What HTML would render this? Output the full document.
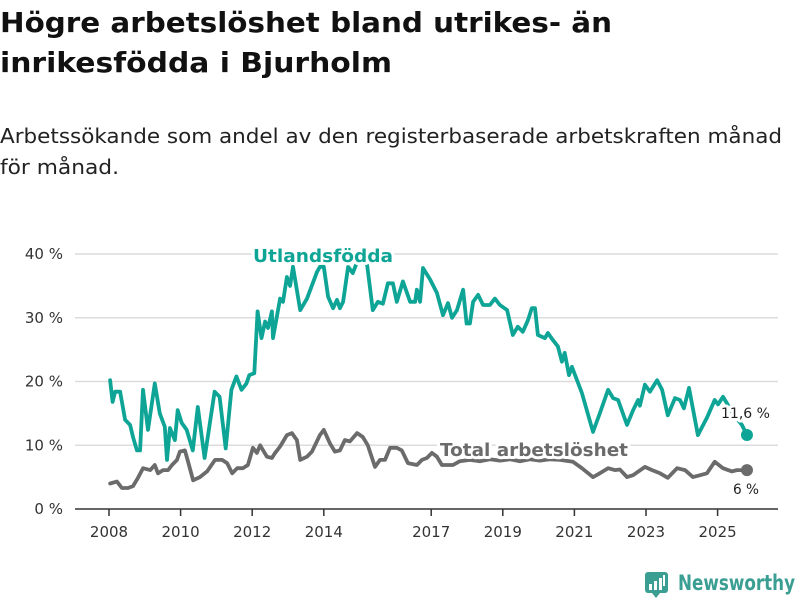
<!DOCTYPE html>
<html><head><meta charset="utf-8"><style>
html,body{margin:0;padding:0;background:#fff;}
svg{display:block;font-family:"DejaVu Sans","Liberation Sans",sans-serif;}
</style></head><body>
<svg id="chart" width="800" height="600" viewBox="0 0 800 600">
<text x="0" y="32" font-size="28" font-weight="bold" fill="#111" textLength="612" lengthAdjust="spacingAndGlyphs">Högre arbetslöshet bland utrikes- än</text>
<text x="0" y="72" font-size="28" font-weight="bold" fill="#111" textLength="392" lengthAdjust="spacingAndGlyphs">inrikesfödda i Bjurholm</text>
<text x="0" y="143" font-size="20" fill="#222" textLength="782" lengthAdjust="spacingAndGlyphs">Arbetssökande som andel av den registerbaserade arbetskraften månad</text>
<text x="0" y="174" font-size="20" fill="#222" textLength="119" lengthAdjust="spacingAndGlyphs">för månad.</text>
<g id="grid"></g><g id="axes"></g><g id="series"></g><g id="labels"></g>
<g>
<rect x="645" y="572" width="23" height="21" rx="3" fill="#3a9e92"/>
<path d="M652 593 L656 598 L660 593 Z" fill="#3a9e92"/>
<rect x="649" y="584" width="3" height="6" fill="#fff"/><rect x="654" y="581" width="3" height="9" fill="#fff"/><rect x="659" y="578" width="3" height="12" fill="#fff"/><rect x="663" y="575" width="2" height="11" fill="#fff"/>
<text x="678" y="590" font-size="21" font-weight="bold" fill="#3a9e92" textLength="117" lengthAdjust="spacingAndGlyphs">Newsworthy</text>
</g>
</svg>
<script>
const yTicks=[0,10,20,30,40];
const yTickLabels=["0 %","10 %","20 %","30 %","40 %"];
const xTicks=[2008,2010,2012,2014,2017,2019,2021,2023,2025];
const utlDates=[2008.03,2008.10,2008.17,2008.31,2008.45,2008.59,2008.67,2008.78,2008.87,2008.95,2009.09,2009.28,2009.42,2009.56,2009.62,2009.70,2009.84,2009.92,2010.03,2010.17,2010.34,2010.48,2010.67,2010.95,2011.09,2011.26,2011.42,2011.56,2011.70,2011.84,2011.92,2012.06,2012.15,2012.26,2012.36,2012.44,2012.55,2012.58,2012.78,2012.86,2012.97,2013.06,2013.14,2013.34,2013.53,2013.81,2013.89,2014.00,2014.12,2014.26,2014.37,2014.45,2014.54,2014.68,2014.81,2014.90,2015.01,2015.12,2015.21,2015.37,2015.51,2015.65,2015.79,2015.93,2016.04,2016.21,2016.41,2016.55,2016.60,2016.69,2016.77,2016.97,2017.16,2017.33,2017.47,2017.58,2017.72,2017.89,2017.99,2018.08,2018.17,2018.31,2018.45,2018.64,2018.78,2018.92,2019.12,2019.28,2019.42,2019.56,2019.70,2019.81,2019.90,2019.98,2020.18,2020.26,2020.40,2020.54,2020.65,2020.73,2020.85,2020.93,2021.21,2021.52,2021.71,2021.94,2022.08,2022.22,2022.47,2022.64,2022.78,2022.83,2022.97,2023.11,2023.31,2023.45,2023.61,2023.81,2023.95,2024.06,2024.20,2024.45,2024.70,2024.92,2025.01,2025.15,2025.26,2025.43,2025.68,2025.82];
const utlValues=[20.2,16.8,18.4,18.4,14,13.2,11.3,9.2,9.2,18.7,12.4,19.7,15,12.9,7.7,12.7,10.8,15.5,13.5,12.4,9.2,16,8,18.4,17.6,9.5,18.7,20.8,18.7,19.7,21,21.3,31,26.8,29.4,28.4,31,26.8,33,32.5,36.4,35,38,31.2,33,37.2,38,38,33.3,31.5,32.8,31.5,32.5,38,37,38.3,39.6,39.6,38.3,31.2,32.5,32.2,35.4,35.4,32.5,35.7,32.5,32.5,34.4,32.5,37.8,36,33.9,30.4,32.3,30,31.2,34.4,29.1,29.1,32.5,33.6,32,32,33,32,31.2,27.3,28.6,27.8,29.6,31.5,31.5,27.3,26.8,27.6,26.5,25.5,23.1,24.5,21,22.3,18.2,12.1,15,18.7,17.4,17.1,13.2,15.5,17.1,16.2,19.5,18.4,20.2,18.7,14.7,17.4,17.1,15.8,19,11.6,14.3,17.1,16.4,17.6,16.6,15,13.2,11.6];
const totDates=[2008.03,2008.22,2008.36,2008.53,2008.67,2008.81,2008.95,2009.15,2009.28,2009.37,2009.51,2009.65,2009.76,2009.90,2009.98,2010.12,2010.21,2010.35,2010.54,2010.74,2010.96,2011.16,2011.30,2011.44,2011.58,2011.74,2011.88,2012.02,2012.13,2012.22,2012.41,2012.55,2012.64,2012.78,2012.97,2013.11,2013.25,2013.34,2013.53,2013.67,2013.89,2014.00,2014.17,2014.31,2014.45,2014.59,2014.73,2014.93,2015.09,2015.23,2015.43,2015.57,2015.71,2015.85,2016.04,2016.18,2016.35,2016.60,2016.74,2016.88,2017.02,2017.16,2017.30,2017.44,2017.61,2017.80,2018.08,2018.36,2018.64,2018.92,2019.20,2019.48,2019.76,2020.04,2020.32,2020.60,2020.96,2021.21,2021.52,2021.71,2021.94,2022.13,2022.27,2022.47,2022.64,2022.97,2023.17,2023.39,2023.61,2023.87,2024.09,2024.31,2024.51,2024.70,2024.92,2025.15,2025.40,2025.54,2025.82];
const totValues=[4,4.3,3.3,3.3,3.6,4.9,6.4,6.1,6.9,5.6,6.1,6.1,6.9,7.7,9,9.2,7.4,4.5,5,5.9,7.7,7.7,7.2,5.6,6.4,6.4,6.9,9.6,8.8,10,8.2,8,8.8,9.8,11.6,11.9,10.8,7.7,8.2,9,11.6,12.4,10.3,9,9.2,10.8,10.6,11.9,11.3,10,6.6,7.7,7.7,9.6,9.6,9.2,7.2,6.9,7.7,8,8.8,8.2,6.9,6.9,6.9,7.5,7.7,7.5,7.8,7.6,7.8,7.5,7.8,7.6,7.8,7.7,7.4,6.4,5,5.6,6.4,6.1,6.2,5,5.3,6.6,6.1,5.6,4.9,6.4,6.1,5,5.3,5.6,7.4,6.4,5.9,6.1,6.1];
const NS="http://www.w3.org/2000/svg";
function xS(d){return 109+(d-2008)*35.8;}
function yS(v){return 509-v*6.375;}
function mk(tag,attrs,parent){const e=document.createElementNS(NS,tag);for(const k in attrs)e.setAttribute(k,attrs[k]);parent.appendChild(e);return e;}
const grid=document.getElementById('grid'),axes=document.getElementById('axes'),series=document.getElementById('series'),labels=document.getElementById('labels');
yTicks.forEach((t,i)=>{
  if(t>0){const g=mk('line',{x1:75,x2:778,y1:yS(t),y2:yS(t),stroke:'#dcdcdc','stroke-width':1.5},grid);
  
  }
  const l=mk('text',{x:63,y:yS(t)+5,'text-anchor':'end','font-size':15,fill:'#333'},axes);
  l.textContent=yTickLabels[i];
  
  
});
const base=mk('line',{x1:75,x2:778,y1:509,y2:509,stroke:'#333','stroke-width':1.5},axes);


xTicks.forEach(t=>{
  const tk=mk('line',{x1:xS(t),x2:xS(t),y1:509,y2:516,stroke:'#333','stroke-width':1.5},axes);
  
  
  const l=mk('text',{x:xS(t),y:537,'text-anchor':'middle','font-size':15,fill:'#333'},axes);
  l.textContent=String(t);
  
  
});
function drawLine(dates,vals,color,name){
  const d=dates.map((x,i)=>(i?'L':'M')+xS(x).toFixed(1)+' '+yS(vals[i]).toFixed(1)).join(' ');
  const p=mk('path',{d:d,fill:'none',stroke:color,'stroke-width':3.8,'stroke-linejoin':'round','stroke-linecap':'round'},series);
  
  
  const n=dates.length-1;
  const c=mk('circle',{cx:xS(dates[n]),cy:yS(vals[n]),r:6,fill:color},series);
  
  
}
drawLine(totDates,totValues,'#6b6b6b','total');
drawLine(utlDates,utlValues,'#0ea596','utlandsfodda');
function lab(x,y,txt,size,weight,color,name,len){
  const t=mk('text',{x:x,y:y,'font-size':size,'font-weight':weight,fill:color,stroke:'#fff','stroke-width':6,'paint-order':'stroke','stroke-linejoin':'round',textLength:len,lengthAdjust:'spacingAndGlyphs'},labels);
  t.textContent=txt;
  
  
}
lab(253,262,'Utlandsfödda',18,'bold','#0ea596','series-label-utlandsfodda',140);
lab(440,456,'Total arbetslöshet',18,'bold','#6b6b6b','series-label-total',188);
lab(721,418,'11,6 %',14,'normal','#222','end-value-utlandsfodda',49);
lab(733,494,'6 %',14,'normal','#222','end-value-total',26);
</script>
</body></html>
